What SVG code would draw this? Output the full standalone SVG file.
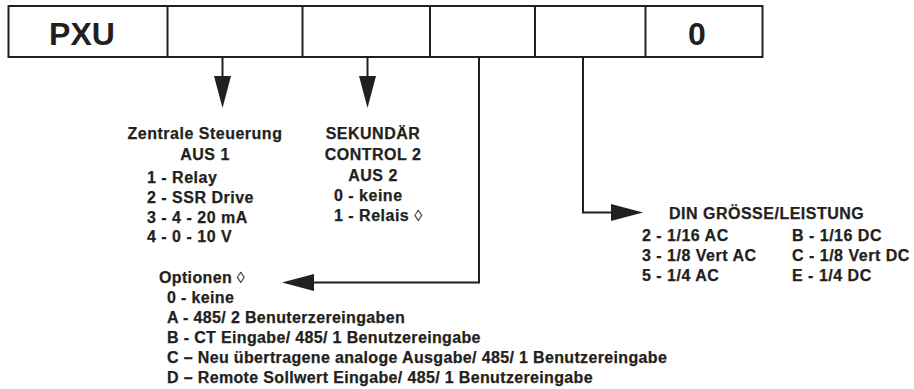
<svg xmlns="http://www.w3.org/2000/svg" width="914" height="389" viewBox="0 0 914 389">
<style>
.ln{fill:none;stroke:#231f20;stroke-width:2}
.t{font-family:"Liberation Sans",Arial,sans-serif;font-weight:bold;font-size:16px;fill:#231f20;stroke:#231f20;stroke-width:0.25;letter-spacing:0.5px}
.o{letter-spacing:0.35px}
.big{font-family:"Liberation Sans",Arial,sans-serif;font-weight:bold;font-size:32px;fill:#231f20}
.m{text-anchor:middle}
.d{font-weight:normal;stroke-width:0}
</style>
<defs>
<marker id="ah" markerUnits="userSpaceOnUse" markerWidth="32" markerHeight="17" refX="22" refY="8.5" orient="auto">
<path d="M0,0 L32,8.5 L0,17 Z" fill="#231f20"/>
</marker>
</defs>
<g id="code-box">
<rect class="ln" x="8.5" y="6" width="754" height="51"/>
<line class="ln" x1="167.5" y1="6" x2="167.5" y2="57"/>
<line class="ln" x1="302.5" y1="6" x2="302.5" y2="57"/>
<line class="ln" x1="430" y1="6" x2="430" y2="57"/>
<line class="ln" x1="535" y1="6" x2="535" y2="57"/>
<line class="ln" x1="645.5" y1="6" x2="645.5" y2="57"/>
<text class="big m" x="82" y="45">PXU</text>
<text class="big m" x="697" y="45">0</text>
</g>
<g id="connectors">
<path class="ln" d="M222.5,57 V98" marker-end="url(#ah)"/>
<path class="ln" d="M367.5,57 V98" marker-end="url(#ah)"/>
<path class="ln" d="M479,57 V282.5 H292" marker-end="url(#ah)"/>
<path class="ln" d="M583,57 V212.5 H633" marker-end="url(#ah)"/>
</g>
<g id="output1">
<text class="t m" x="205" y="139">Zentrale Steuerung</text>
<text class="t m" x="205" y="160">AUS 1</text>
<text class="t" x="147" y="183">1 - Relay</text>
<text class="t" x="147" y="203">2 - SSR Drive</text>
<text class="t" x="147" y="223">3 - 4 - 20 mA</text>
<text class="t" x="147" y="242">4 - 0 - 10 V</text>
</g>
<g id="output2">
<text class="t m" x="373" y="139">SEKUNDÄR</text>
<text class="t m" x="373" y="160">CONTROL 2</text>
<text class="t m" x="373" y="181">AUS 2</text>
<text class="t" x="334" y="201">0 - keine</text>
<text class="t" x="334" y="221">1 - Relais <tspan class="d">◊</tspan></text>
</g>
<g id="din-size">
<text class="t" x="669" y="219">DIN GRÖSSE/LEISTUNG</text>
<text class="t" x="642" y="241">2 - 1/16 AC</text>
<text class="t" x="642" y="261">3 - 1/8 Vert AC</text>
<text class="t" x="642" y="281">5 - 1/4 AC</text>
<text class="t" x="792" y="241">B - 1/16 DC</text>
<text class="t" x="792" y="261">C - 1/8 Vert DC</text>
<text class="t" x="792" y="281">E - 1/4 DC</text>
</g>
<g id="options">
<text class="t o" x="159" y="283">Optionen <tspan class="d">◊</tspan></text>
<text class="t o" x="167" y="303">0 - keine</text>
<text class="t o" x="167" y="323">A - 485/ 2 Benuterzereingaben</text>
<text class="t o" x="167" y="343">B - CT Eingabe/ 485/ 1 Benutzereingabe</text>
<text class="t o" x="167" y="363">C – Neu übertragene analoge Ausgabe/ 485/ 1 Benutzereingabe</text>
<text class="t o" x="167" y="383">D – Remote Sollwert Eingabe/ 485/ 1 Benutzereingabe</text>
</g>
</svg>
